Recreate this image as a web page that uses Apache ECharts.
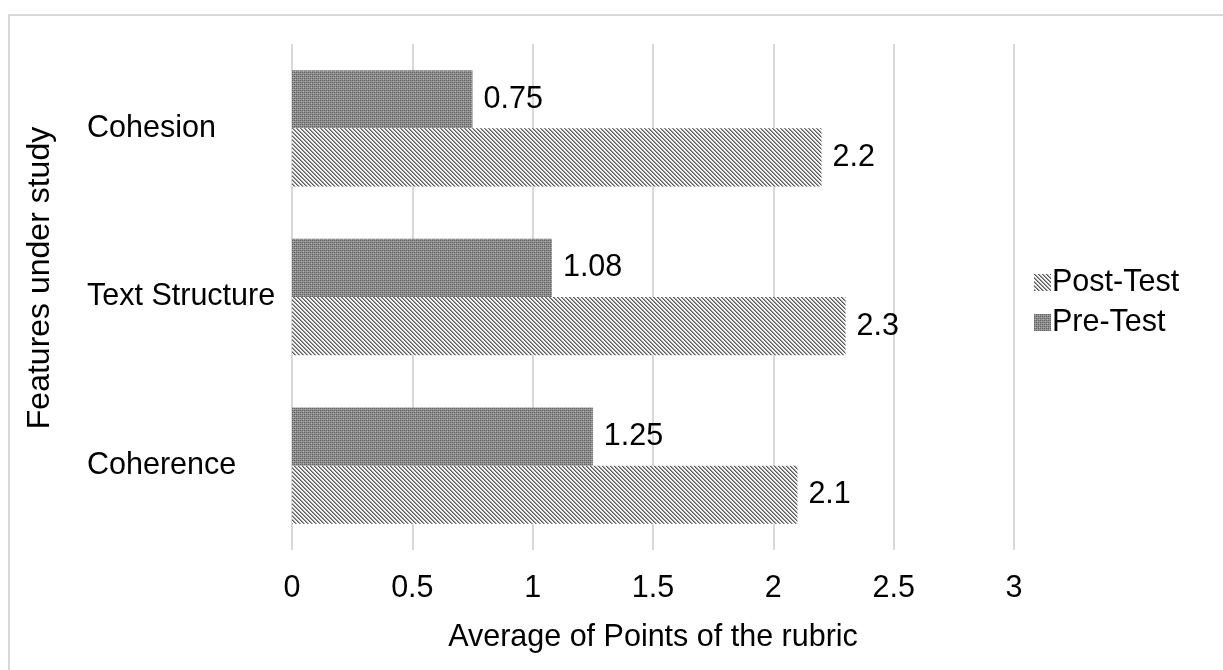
<!DOCTYPE html>
<html>
<head>
<meta charset="utf-8">
<script src="https://cdn.jsdelivr.net/npm/echarts@6/dist/echarts.min.js"></script>
<style>
html,body{margin:0;padding:0;background:#fff;}
#chart{width:1223px;height:670px;}
</style>
</head>
<body>
<div id="chart"></div>
<script>
const categories = ['Coherence', 'Text Structure', 'Cohesion'];
const postTest = [2.1, 2.3, 2.2];
const preTest = [1.25, 1.08, 0.75];
const xTicks = { min: 0, max: 3, interval: 0.5 };

function stripePattern() {
  const c = document.createElement('canvas');
  c.width = 4; c.height = 4;
  const g = c.getContext('2d');
  g.fillStyle = '#f4f4f4';
  g.fillRect(0, 0, 4, 4);
  g.fillStyle = '#5a5a5a';
  for (let i = 0; i < 4; i++) {
    g.fillRect(i, i, 1, 1);
  }
  g.fillStyle = '#9a9a9a';
  for (let i = 0; i < 4; i++) {
    g.fillRect((i + 1) % 4, i, 1, 1);
  }
  return c;
}
function checkPattern() {
  const c = document.createElement('canvas');
  c.width = 4; c.height = 4;
  const g = c.getContext('2d');
  g.fillStyle = '#909090';
  g.fillRect(0, 0, 4, 4);
  g.fillStyle = '#616161';
  g.fillRect(0, 0, 1, 1); g.fillRect(2, 2, 1, 1);
  g.fillRect(2, 0, 1, 1); g.fillRect(0, 2, 1, 1);
  g.fillStyle = '#b0b0b0';
  g.fillRect(1, 1, 1, 1); g.fillRect(3, 3, 1, 1);
  return c;
}

const postFill = { image: stripePattern(), repeat: 'repeat' };
const preFill = { image: checkPattern(), repeat: 'repeat' };

const font = 'Liberation Sans, Arial, sans-serif';
const fs = 30.5;

const chart = echarts.init(document.getElementById('chart'));
chart.setOption({
  backgroundColor: '#ffffff',
  animation: false,
  textStyle: { fontFamily: font, color: '#000' },
  graphic: [{
    type: 'rect',
    shape: { x: 9, y: 15, width: 1300, height: 800 },
    style: { fill: 'none', stroke: '#d9d9d9', lineWidth: 2 },
    silent: true, z: -10
  }],
  grid: { left: 292, right: 209, top: 44, bottom: 120 },
  legend: {
    orient: 'vertical',
    left: 1029, top: 262,
    icon: 'rect',
    itemWidth: 17, itemHeight: 17,
    itemGap: 9,
    data: ['Post-Test', 'Pre-Test'],
    textStyle: { fontFamily: font, fontSize: fs, color: '#000', padding: [0, 0, 0, -4] }
  },
  xAxis: {
    type: 'value',
    min: xTicks.min, max: xTicks.max, interval: xTicks.interval,
    name: 'Average of Points of the rubric',
    nameLocation: 'middle',
    nameGap: 72,
    nameTextStyle: { fontFamily: font, fontSize: fs, color: '#000' },
    axisLine: { show: false },
    axisTick: { show: false },
    axisLabel: { fontFamily: font, fontSize: fs, color: '#000', margin: 23 },
    splitLine: { show: true, lineStyle: { color: '#d9d9d9', width: 2 } }
  },
  yAxis: {
    type: 'category',
    data: categories,
    name: 'Features under study',
    nameLocation: 'middle',
    nameGap: 236,
    nameRotate: 90,
    nameTextStyle: { fontFamily: font, fontSize: 32, color: '#000', padding: [0, 0, 0, 38] },
    axisLine: { show: false },
    axisTick: { show: false },
    axisLabel: { fontFamily: font, fontSize: fs, color: '#000', margin: 205, align: 'left' },
    splitLine: { show: false }
  },
  series: [
    {
      name: 'Pre-Test', type: 'bar', data: preTest,
      barGap: '0%', barCategoryGap: '31%',
      itemStyle: { color: preFill },
      label: { show: true, position: 'right', distance: 11, fontFamily: font, fontSize: fs, color: '#000' }
    },
    {
      name: 'Post-Test', type: 'bar', data: postTest,
      barGap: '0%', barCategoryGap: '31%',
      itemStyle: { color: postFill },
      label: { show: true, position: 'right', distance: 11, fontFamily: font, fontSize: fs, color: '#000' }
    }
  ]
});
</script>
</body>
</html>
